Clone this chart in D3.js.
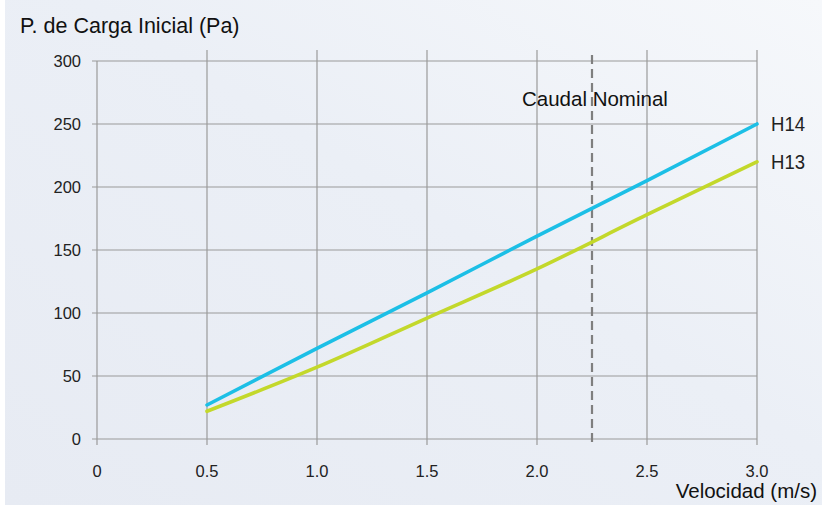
<!DOCTYPE html>
<html><head><meta charset="utf-8">
<script src="https://cdn.jsdelivr.net/npm/d3@7"></script>
<style>html,body{margin:0;padding:0;background:#fff;}svg{display:block;}</style>
</head><body>
<script>
const velocities = [0.5, 1.0, 1.5, 2.0, 2.5, 3.0];
const h14 = [27, 72, 116, 161, 205, 250];
const h13 = [22, 57, 96, 135, 178, 220];
const xTicks = [0, 0.5, 1.0, 1.5, 2.0, 2.5, 3.0];
const xTickLabels = ["0", "0.5", "1.0", "1.5", "2.0", "2.5", "3.0"];
const yTicks = [0, 50, 100, 150, 200, 250, 300];
const nominal = 2.25;
const seriesNames = ["H14", "H13"];

const W = 822, H = 505;
const svg = d3.select("body").append("svg").attr("width", W).attr("height", H);
const defs = svg.append("defs");
const g = defs.append("linearGradient").attr("id","bg").attr("x1","0").attr("y1","1").attr("x2","1").attr("y2","0");
g.append("stop").attr("offset","0").attr("stop-color","#e7ebf3");
g.append("stop").attr("offset","0.55").attr("stop-color","#ebeff6");
g.append("stop").attr("offset","1").attr("stop-color","#f6f8fb");
svg.append("rect").attr("width",W).attr("height",H).attr("fill","#fff");
svg.append("rect").attr("x",5).attr("width",W-5).attr("height",H).attr("fill","url(#bg)");

const x = d3.scaleLinear().domain([0,3]).range([97,757]);
const y = d3.scaleLinear().domain([0,300]).range([439,61]);
const font = "'Liberation Sans', Arial, sans-serif";
const gridColor = "#9a9a9a";

svg.append("g").selectAll("line").data(yTicks).join("line")
  .attr("x1",92).attr("x2",x(3)).attr("y1",d=>y(d)).attr("y2",d=>y(d))
  .attr("stroke",gridColor).attr("stroke-width",1.2);
svg.append("g").selectAll("line").data(xTicks).join("line")
  .attr("x1",d=>x(d)).attr("x2",d=>x(d)).attr("y1",d=>d===0?y(300):50).attr("y2",445)
  .attr("stroke",gridColor).attr("stroke-width",1.2);

svg.append("g").selectAll("text").data(yTicks).join("text")
  .attr("x",81).attr("y",d=>y(d)+6).attr("text-anchor","end")
  .attr("font-family",font).attr("font-size",16.5).attr("fill","#222")
  .text(d=>d);
svg.append("g").selectAll("text").data(xTicks).join("text")
  .attr("x",d=>x(d)).attr("y",477).attr("text-anchor","middle")
  .attr("font-family",font).attr("font-size",16.5).attr("fill","#222")
  .text((d,i)=>xTickLabels[i]);

svg.append("line").attr("x1",x(nominal)).attr("x2",x(nominal)).attr("y1",55).attr("y2",446)
  .attr("stroke","#7f7f7f").attr("stroke-width",2.2).attr("stroke-dasharray","9,5");

const line = d3.line().x((d,i)=>x(velocities[i])).y(d=>y(d)).curve(d3.curveMonotoneX);
const colors = ["#1cbfe6", "#c3d82b"];
[h14,h13].forEach((s,k)=>{
  svg.append("path").attr("d",line(s)).attr("fill","none")
    .attr("stroke",colors[k]).attr("stroke-width",3.6).attr("stroke-linecap","round");
  svg.append("text").attr("x",x(3)+14).attr("y",y(s[s.length-1])+7)
    .attr("font-family",font).attr("font-size",21).attr("fill","#222")
    .attr("textLength",34).attr("lengthAdjust","spacingAndGlyphs").text(seriesNames[k]);
});

svg.append("text").attr("x",522).attr("y",106)
  .attr("font-family",font).attr("font-size",20.5).attr("fill","#111").text("Caudal Nominal");

svg.append("text").attr("x",20).attr("y",33).attr("font-family",font).attr("font-size",21.5).attr("fill","#111")
  .text("P. de Carga Inicial (Pa)");
svg.append("text").attr("x",817).attr("y",498).attr("text-anchor","end").attr("font-family",font).attr("font-size",20.5).attr("fill","#111")
  .text("Velocidad (m/s)");
</script>
</body></html>
